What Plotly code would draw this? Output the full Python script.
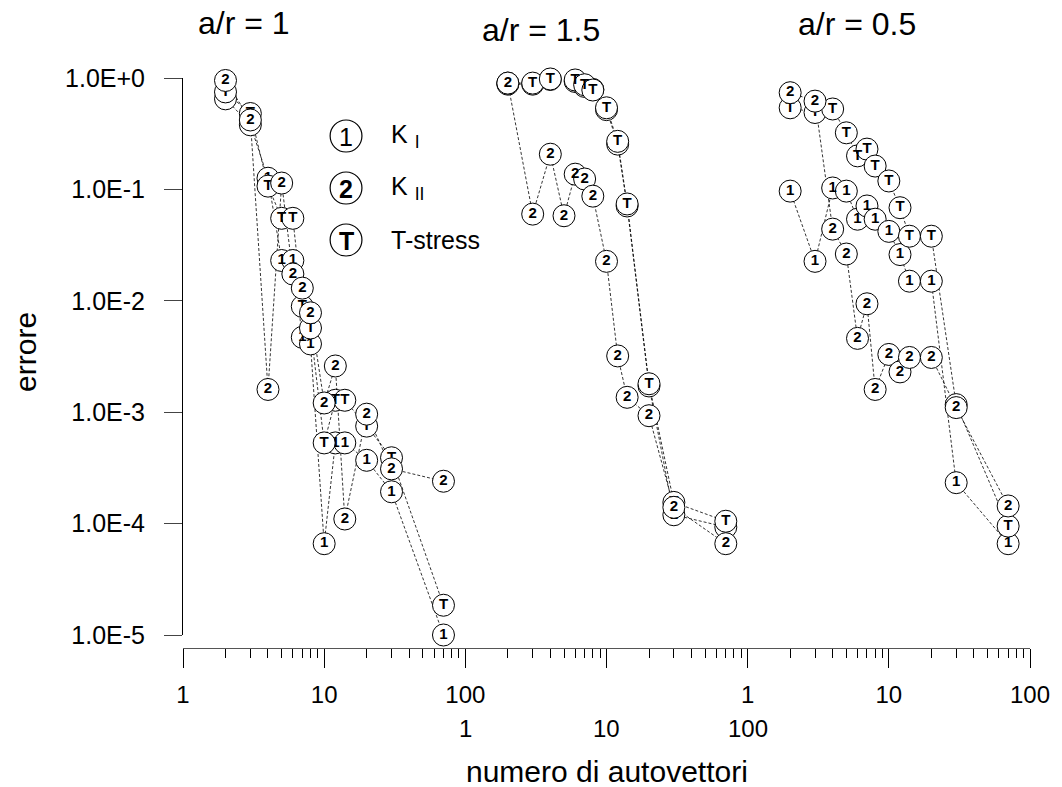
import math
import plotly.graph_objects as go

# ---------------- data ----------------
n_vals = [2, 3, 4, 5, 6, 7, 8, 10, 12, 14, 20, 30, 70]

# panel a/r = 1
p1_KI  = [0.65, 0.38, 0.126, 0.023, 0.023, 0.0047, 0.0041, 6.6e-5, 0.00053, 0.00053, 0.00037, 0.000193, 1.0e-5]
p1_KII = [0.95, 0.42, 0.0016, 0.114, 0.0174, 0.013, 0.0078, 0.00121, 0.0026, 1.1e-4, 0.00096, 0.00031, 0.00024]
p1_T   = [0.75, 0.48, 0.107, 0.055, 0.055, 0.0089, 0.0057, 0.00053, 0.00128, 0.00128, 0.00075, 0.00039, 1.85e-5]

# panel a/r = 1.5
p2_KI  = [0.88, 0.88, 0.97, 1.03, 0.93, 0.84, 0.79, 0.52, 0.255, 0.071, 0.00172, 1.2e-4, 9.3e-5]
p2_KII = [0.90, 0.06, 0.207, 0.058, 0.137, 0.124, 0.087, 0.0226, 0.0032, 0.00136, 0.00093, 1.4e-4, 6.6e-5]
p2_T   = [0.90, 0.90, 0.98, 1.02, 0.96, 0.87, 0.78, 0.54, 0.27, 0.074, 0.0018, 1.55e-4, 1.05e-4]

# panel a/r = 0.5
p3_KI  = [0.0965, 0.0226, 0.103, 0.0965, 0.054, 0.071, 0.054, 0.042, 0.026, 0.015, 0.015, 2.33e-4, 6.6e-5]
p3_KII = [0.738, 0.62, 0.044, 0.0263, 0.0046, 0.0094, 0.0016, 0.0033, 0.0023, 0.0031, 0.0031, 0.0011, 1.44e-4]
p3_T   = [0.54, 0.49, 0.527, 0.322, 0.2, 0.23, 0.162, 0.119, 0.0685, 0.038, 0.038, 0.00117, 9.5e-5]

panel_titles = ["a/r = 1", "a/r = 1.5", "a/r = 0.5"]
panel_offsets = [1, 100, 10000]   # each panel occupies its own decades of the shared log axis
series_glyphs = ["1", "T", "2"]   # KI, T-stress, KII (draw order)

y_tickvals = [1, 0.1, 0.01, 0.001, 0.0001, 0.00001]
y_ticktext = ["1.0E+0", "1.0E-1", "1.0E-2", "1.0E-3", "1.0E-4", "1.0E-5"]
x_tickvals = [1, 10, 100, 1000, 1e4, 1e5, 1e6]
x_ticktext = ["1", "10", "100", "", "1", "10", "100"]
x_row2_vals = [100, 1000, 10000]
x_row2_text = ["1", "10", "100"]

legend_glyphs = ["1", "2", "T"]
legend_labels = ["K <sub>I</sub>", "K <sub>II</sub>", "T-stress"]

panels = [
    [p1_KI, p1_T, p1_KII],
    [p2_KI, p2_T, p2_KII],
    [p3_KI, p3_T, p3_KII],
]

# ---------------- layout geometry ----------------
W, H = 1062, 787
L, R, T, B = 183, 27, 78, 139
PW, PH = W - L - R, H - T - B
Y_BOTTOM_PX = 635

def px2paper_x(px):
    return (px - L) / PW

def px2paper_y(py):
    return (H - B - py) / PH

FONT = "Arial, Liberation Sans, sans-serif"

fig = go.Figure()

# lines first (under all markers)
for off, series in zip(panel_offsets, panels):
    xs = [n * off for n in n_vals]
    for ys in series:
        fig.add_trace(go.Scatter(
            x=xs, y=ys, mode="lines",
            line=dict(color="black", width=0.8, dash="3px,2px"),
            hoverinfo="skip", showlegend=False))

# markers with glyphs
for off, series in zip(panel_offsets, panels):
    xs = [n * off for n in n_vals]
    for ys, g in zip(series, series_glyphs):
        fig.add_trace(go.Scatter(
            x=xs, y=ys, mode="markers+text",
            text=[g] * len(xs), textposition="middle center",
            textfont=dict(family=FONT, size=15, color="black", weight="bold"),
            marker=dict(symbol="circle", size=22, color="white",
                        line=dict(color="black", width=1)),
            cliponaxis=False, showlegend=False))

annotations = []
# panel titles
for t, (cx, cy) in zip(panel_titles, [(244, 23), (543, 30), (861, 24)]):
    annotations.append(dict(text=t, x=px2paper_x(cx), y=px2paper_y(cy),
                            xref="paper", yref="paper", showarrow=False,
                            font=dict(family=FONT, size=32, color="black"),
                            xanchor="center", yanchor="middle"))
# second row of x tick labels (middle panel)
for v, t in zip(x_row2_vals, x_row2_text):
    annotations.append(dict(text=t, x=math.log10(v), y=px2paper_y(728),
                            xref="x", yref="paper", showarrow=False,
                            font=dict(family=FONT, size=24, color="black"),
                            xanchor="center", yanchor="middle"))
# axis titles
annotations.append(dict(text="numero di autovettori", x=px2paper_x(609), y=px2paper_y(771),
                        xref="paper", yref="paper", showarrow=False,
                        font=dict(family=FONT, size=30, color="black"),
                        xanchor="center", yanchor="middle"))
annotations.append(dict(text="errore", x=px2paper_x(24), y=px2paper_y(352),
                        xref="paper", yref="paper", showarrow=False, textangle=-90,
                        font=dict(family=FONT, size=30, color="black"),
                        xanchor="center", yanchor="middle"))

# in-plot legend
shapes = []
for i, (g, lab) in enumerate(zip(legend_glyphs, legend_labels)):
    cx, cy, r = 347, 136 + 52 * i, 16
    shapes.append(dict(type="circle", xref="paper", yref="paper",
                       x0=px2paper_x(cx - r), x1=px2paper_x(cx + r),
                       y0=px2paper_y(cy + r), y1=px2paper_y(cy - r),
                       line=dict(color="black", width=1.2), fillcolor="white"))
    annotations.append(dict(text=g, x=px2paper_x(cx), y=px2paper_y(cy + 1),
                            xref="paper", yref="paper", showarrow=False,
                            font=dict(family=FONT, size=25, color="black",
                                      weight="bold" if g != "1" else "normal"),
                            xanchor="center", yanchor="middle"))
    annotations.append(dict(text=lab, x=px2paper_x(390), y=px2paper_y(cy),
                            xref="paper", yref="paper", showarrow=False,
                            font=dict(family=FONT, size=25, color="black"),
                            xanchor="left", yanchor="middle"))

minor_vals = [k * 10 ** d for d in range(6) for k in range(2, 10)]

fig.update_layout(
    width=W, height=H,
    margin=dict(l=L, r=R, t=T, b=B, pad=0),
    paper_bgcolor="white", plot_bgcolor="white",
    showlegend=False,
    annotations=annotations, shapes=shapes,
    xaxis=dict(type="log", range=[0, 6], anchor="free", position=0,
               showline=True, linecolor="#555", linewidth=1.2,
               showgrid=False, zeroline=False,
               tickmode="array", tickvals=x_tickvals, ticktext=x_ticktext,
               ticks="outside", ticklen=19, tickwidth=1, tickcolor="black",
               ticklabelstandoff=6,
               tickfont=dict(family=FONT, size=24, color="black"),
               minor=dict(tickmode="array", tickvals=minor_vals, ticks="outside",
                          ticklen=9, tickwidth=1, tickcolor="black", showgrid=False)),
    yaxis=dict(type="log", range=[-5, 0],
               domain=[px2paper_y(Y_BOTTOM_PX), 1],
               showline=True, linecolor="black", linewidth=1,
               showgrid=False, zeroline=False,
               tickmode="array", tickvals=y_tickvals, ticktext=y_ticktext,
               ticks="outside", ticklen=18, tickwidth=1, tickcolor="#444",
               ticklabelstandoff=14,
               tickfont=dict(family=FONT, size=25, color="black")),
)

fig.write_html("out.html")
